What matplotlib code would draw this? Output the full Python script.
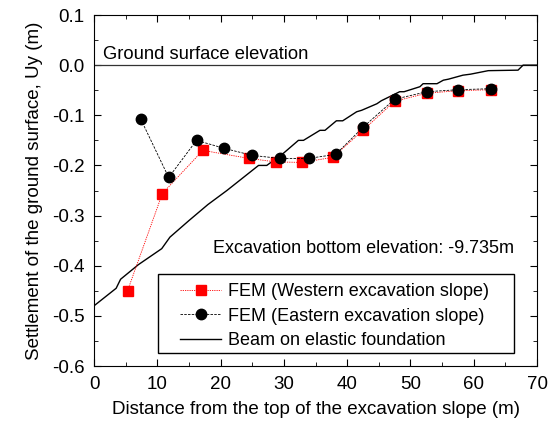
import matplotlib
matplotlib.use("Agg")
import matplotlib.pyplot as plt
from matplotlib.ticker import MultipleLocator
from matplotlib.patches import Rectangle

plt.rcParams['font.family'] = ['Liberation Sans', 'DejaVu Sans']

west_x = [5.3, 10.8, 17.2, 24.5, 28.7, 32.9, 37.7, 42.5, 47.5, 52.6, 57.5, 62.7]
west_y = [-0.450, -0.256, -0.170, -0.186, -0.193, -0.194, -0.184, -0.130, -0.072, -0.056, -0.051, -0.049]

east_x = [7.4, 11.8, 16.2, 20.6, 25.0, 29.4, 33.9, 38.2, 42.5, 47.5, 52.6, 57.5, 62.7]
east_y = [-0.108, -0.224, -0.150, -0.166, -0.180, -0.186, -0.186, -0.178, -0.124, -0.068, -0.053, -0.049, -0.047]

beam_x = [0, 2.5, 3.5, 4.2, 7, 10.7, 12, 15, 18, 21, 24, 26, 27.3, 30, 32.3, 33.1, 35.7, 36.5,
          38.3, 39.3, 41.5, 42.3, 44.7, 45.4, 48.3, 49, 51.5, 52, 54.2, 55.2, 56, 58.3, 59.5,
          62.3, 67, 67.8, 70]
beam_y = [-0.48, -0.455, -0.445, -0.427, -0.398, -0.366, -0.343, -0.31, -0.278, -0.25, -0.22,
          -0.2, -0.2, -0.175, -0.15, -0.15, -0.13, -0.13, -0.111, -0.111, -0.093, -0.09, -0.077,
          -0.071, -0.053, -0.053, -0.043, -0.037, -0.037, -0.03, -0.028, -0.02, -0.018, -0.011,
          -0.01, 0.0, 0.0]

ground_x = [0, 70]
ground_y = [0.0, 0.0]

fig = plt.figure(figsize=(5.53, 4.23), dpi=100)
ax = fig.add_axes([94/553, 1-366/423, 443/553, 351/423])

ax.plot(ground_x, ground_y, color='#333333', lw=0.9)
ax.plot(beam_x, beam_y, color='black', lw=1.0, label='Beam on elastic foundation')
ax.plot(west_x, west_y, color='red', lw=0.6, ls=(0, (1.5, 1.2)), marker='s', ms=7,
        mfc='red', mec='red', label='FEM (Western excavation slope)')
ax.plot(east_x, east_y, color='black', lw=0.6, ls=(0, (3, 1.5)), marker='o', ms=7.5,
        mfc='black', mec='black', label='FEM (Eastern excavation slope)')

ax.set_xlim(0, 70)
ax.set_ylim(-0.6, 0.1)
ax.xaxis.set_major_locator(MultipleLocator(10))
ax.xaxis.set_minor_locator(MultipleLocator(5))
ax.yaxis.set_major_locator(MultipleLocator(0.1))
ax.yaxis.set_minor_locator(MultipleLocator(0.05))
ax.tick_params(which='both', direction='in', top=True, right=True, labelsize=13.5)
ax.tick_params(which='major', length=5, pad=7)
ax.tick_params(which='minor', length=3)
ax.set_yticks([0.1, 0.0, -0.1, -0.2, -0.3, -0.4, -0.5, -0.6])
ax.set_yticklabels(['0.1', '0.0', '-0.1', '-0.2', '-0.3', '-0.4', '-0.5', '-0.6'])

ax.set_xlabel('Distance from the top of the excavation slope (m)', fontsize=13.5, labelpad=6)
ax.set_ylabel('Settlement of the ground surface, Uy (m)', fontsize=13.5, labelpad=6)

ax.text(1.4, 0.022, 'Ground surface elevation', fontsize=13.2, va='center', ha='left')
ax.text(18.8, -0.365, 'Excavation bottom elevation: -9.735m', fontsize=13, va='center', ha='left')

h, l = ax.get_legend_handles_labels()
order = [1, 2, 0]
ax.legend([h[i] for i in order], [l[i] for i in order], loc='upper left',
          bbox_to_anchor=(0.194, 0.236), fontsize=13, frameon=False,
          borderpad=0, handlelength=2.3, labelspacing=0.42,
          borderaxespad=0, handletextpad=0.35)
ax.add_patch(Rectangle((0.144, 0.037), 0.804, 0.225, transform=ax.transAxes,
                       fill=False, edgecolor='black', lw=1.0, zorder=5))

fig.savefig('out.png', dpi=100)
